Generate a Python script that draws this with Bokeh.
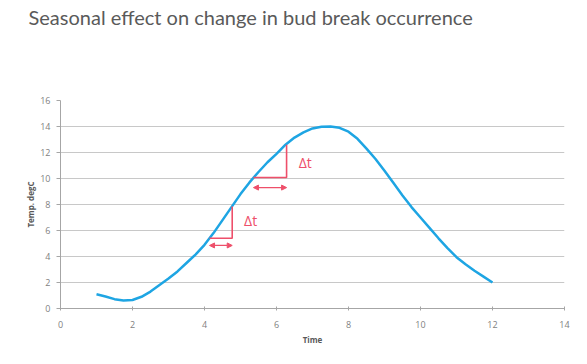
from bokeh.plotting import figure
from bokeh.models import Range1d, FixedTicker, Arrow, NormalHead, Label
from bokeh.embed import file_html
from bokeh.resources import INLINE

# Data
time = [1.0, 1.25, 1.5, 1.75, 2.0, 2.25, 2.5, 2.75, 3.0, 3.25, 3.5, 3.75, 4.0, 4.25, 4.5, 4.75,
        5.0, 5.25, 5.5, 5.75, 6.0, 6.25, 6.5, 6.75, 7.0, 7.25, 7.5, 7.75, 8.0, 8.25, 8.5, 8.75,
        9.0, 9.25, 9.5, 9.75, 10.0, 10.25, 10.5, 10.75, 11.0, 11.25, 11.5, 11.75, 12.0]
temp = [1.1, 0.92, 0.72, 0.62, 0.65, 0.9, 1.3, 1.8, 2.3, 2.85, 3.5, 4.15, 4.9, 5.8, 6.8, 7.8,
        8.8, 9.7, 10.5, 11.25, 11.9, 12.6, 13.15, 13.55, 13.85, 13.98, 14.0, 13.9, 13.6, 13.05,
        12.3, 11.5, 10.6, 9.65, 8.7, 7.8, 7.0, 6.2, 5.4, 4.65, 3.95, 3.4, 2.9, 2.45, 2.0]
x_ticks = [0, 2, 4, 6, 8, 10, 12, 14]
y_ticks = [0, 2, 4, 6, 8, 10, 12, 14, 16]
title_text = "Seasonal effect on change in bud break occurrence"

# annotation steps: (x_start, x_end, y_low, y_high)
steps = [(4.14, 4.77, 5.4, 7.85), (5.36, 6.28, 10.08, 12.6)]
arrow_y = [4.85, 9.3]
delta_pos = [(5.28, 6.77), (6.8, 11.2)]

W, H = 571, 348
p = figure(width=W, height=H, output_backend="svg", toolbar_location=None,
           x_range=Range1d(0, 14), y_range=Range1d(0, 16),
           min_border_left=60, min_border_right=7, min_border_top=100, min_border_bottom=40,
           title=title_text + "\n\n\n")
p.title.text_font = "Lato"
p.title.text_font_size = "20px"
p.title.text_font_style = "normal"
p.title.text_color = "#5a5a5a"
p.title.offset = -32
p.title.standoff = 0
p.outline_line_color = None
p.background_fill_color = "white"
p.border_fill_color = "white"

p.xaxis.ticker = FixedTicker(ticks=x_ticks)
p.yaxis.ticker = FixedTicker(ticks=y_ticks)
for ax in (p.xaxis[0], p.yaxis[0]):
    ax.axis_line_color = "#a6a6a6"
    ax.major_tick_line_color = "#a6a6a6"
    ax.minor_tick_line_color = None
    ax.major_label_text_font = "Open Sans"
    ax.major_label_text_font_size = "9px"
    ax.major_label_text_color = "#7f7f7f"
    ax.axis_label_text_font = "Open Sans"
    ax.axis_label_text_font_size = "8px"
    ax.axis_label_text_font_style = "bold"
    ax.axis_label_text_color = "#595959"
p.xaxis.major_tick_in = 2
p.xaxis.major_tick_out = 2
p.yaxis.major_tick_in = 0
p.yaxis.major_tick_out = 4
p.xaxis.major_label_standoff = 10
p.yaxis.major_label_standoff = 6
p.xaxis.axis_label = "Time"
p.yaxis.axis_label = "Temp. degC"
p.xaxis.axis_label_standoff = 3
p.yaxis.axis_label_standoff = 1

p.xgrid.grid_line_color = None
p.ygrid.grid_line_color = "#c8c8c8"
p.ygrid.grid_line_width = 1

p.line(time, temp, line_color="#1ea5e3", line_width=2.5)

red = "#ee4f6a"
for (x0, x1, y0, y1) in steps:
    p.line([x0, x1, x1], [y0, y0, y1], line_color=red, line_width=1.6)
for (x0, x1, y0, y1), ay in zip(steps, arrow_y):
    p.add_layout(Arrow(x_start=x0, x_end=x1, y_start=ay, y_end=ay,
                       line_color=red, line_width=1.2,
                       start=NormalHead(size=5, fill_color=red, line_color=red),
                       end=NormalHead(size=5, fill_color=red, line_color=red)))
for (dx, dy) in delta_pos:
    p.add_layout(Label(x=dx, y=dy, text="Δt", text_color=red, text_font="Open Sans",
                       text_font_size="14px", text_align="center", text_baseline="middle"))

open("out.html", "w").write(file_html(p, INLINE))
